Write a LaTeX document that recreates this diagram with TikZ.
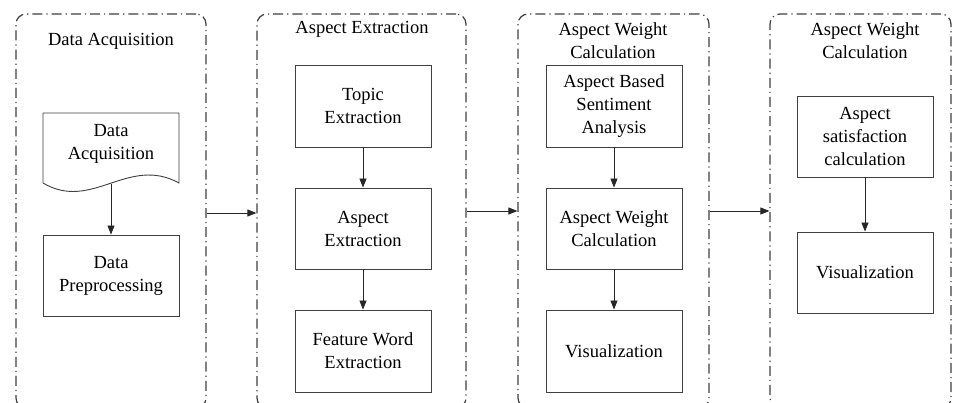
\documentclass[tikz,border=0pt]{standalone}
\usepackage{fontspec}
\setmainfont{Liberation Serif}
\usetikzlibrary{arrows.meta}
\begin{document}
\begin{tikzpicture}[x=1pt,y=-1pt,
  panel/.style={draw=black!75, line width=1.2pt, rounded corners=10pt,
    dash pattern=on 10pt off 4pt on 1.2pt off 4pt, minimum height=394pt, inner sep=0pt},
  stepbox/.style={draw=black!75, line width=0.9pt, minimum width=136pt, minimum height=82pt,
    align=center, font=\fontsize{18.5}{23}\selectfont, inner sep=0pt},
  ttl/.style={align=center, font=\fontsize{18.5}{23}\selectfont, inner sep=0pt},
  arr/.style={draw=black!85, line width=0.9pt, -{Triangle[length=9pt,width=7pt]}}]
\useasboundingbox (0,0) rectangle (953,403);
\clip (0,0) rectangle (953,403);
\fill[white] (0,0) rectangle (953,403);
% panels
\node[panel, minimum width=190pt] (p1) at (111,211) {};
\node[panel, minimum width=209pt] (p2) at (361.5,211) {};
\node[panel, minimum width=191pt] (p3) at (613.5,211) {};
\node[panel, minimum width=181pt] (p4) at (860.5,211) {};
% panel 1
\node[ttl] (t1) at (111,41) {Data Acquisition};
\draw[draw=black!75, line width=0.9pt] (43,183) -- (43,113) -- (179,113) -- (179,183)
  .. controls (128,155) and (92,212) .. (43,183);
\node[ttl] (doc) at (111,143.5) {Data\\Acquisition};
\coordinate (docb) at (111,184);
\node[stepbox, minimum height=81pt] (pre) at (111,275.5) {Data\\Preprocessing};
\draw[arr] (docb) -- (pre.north);
% panel 2
\node[ttl] (t2) at (362,29) {Aspect Extraction};
\node[stepbox] (te) at (363,106) {Topic\\Extraction};
\node[stepbox, minimum height=81pt] (ae) at (363,228.5) {Aspect\\Extraction};
\node[stepbox] (fw) at (363,351) {Feature Word\\Extraction};
\draw[arr] (te.south) -- (ae.north);
\draw[arr] (ae.south) -- (fw.north);
% panel 3
\node[ttl] (t3) at (613,40.5) {Aspect Weight\\Calculation};
\node[stepbox] (sa) at (614,106) {Aspect Based\\Sentiment\\Analysis};
\node[stepbox, minimum height=81pt] (aw) at (614,228.5) {Aspect Weight\\Calculation};
\node[stepbox] (vi) at (614,351) {Visualization};
\draw[arr] (sa.south) -- (aw.north);
\draw[arr] (aw.south) -- (vi.north);
% panel 4
\node[ttl] (t4) at (865,40.5) {Aspect Weight\\Calculation};
\node[stepbox, minimum height=81pt] (sc) at (865,136.5) {Aspect\\satisfaction\\calculation};
\node[stepbox, minimum height=81pt] (v2) at (865,272.5) {Visualization};
\draw[arr] (sc.south) -- (v2.north);
% connectors between panels
\draw[arr] ([yshift=-2pt]p1.east) -- ([yshift=-2pt]p2.west);
\draw[arr] (p2.east) -- (p3.west);
\draw[arr] (p3.east) -- (p4.west);
\end{tikzpicture}
\end{document}
